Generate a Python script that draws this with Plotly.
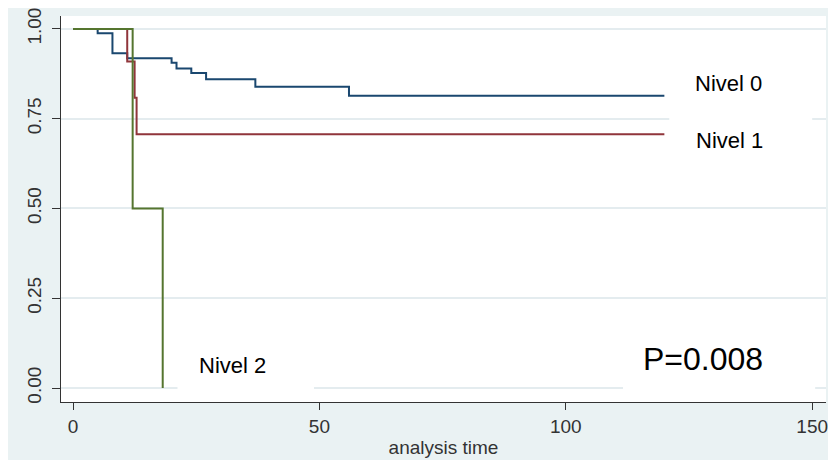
import plotly.graph_objects as go

# ---- data ----
nivel0_time = [0, 5, 8, 11, 20, 21, 24, 27, 37, 56, 120]
nivel0_surv = [1.0, 0.988, 0.932, 0.918, 0.906, 0.890, 0.877, 0.860, 0.839, 0.814, 0.814]

nivel1_time = [0, 11, 12.5, 12.9, 120]
nivel1_surv = [1.0, 0.909, 0.808, 0.707, 0.707]

nivel2_time = [0, 12.1, 18.2]
nivel2_surv = [1.0, 0.5, 0.0]

x_ticks = [0, 50, 100, 150]
y_ticks = [0.0, 0.25, 0.5, 0.75, 1.0]

labels = ["Nivel 0", "Nivel 1", "Nivel 2"]
p_text = "P=0.008"

BG = "#eaf2f3"
GRID = "#e4ecef"
NAVY = "#1a476f"
MAROON = "#90353b"
GREEN = "#55752f"
FONT = "Liberation Sans, Arial, sans-serif"

fig = go.Figure()
for t, s, c, name in [(nivel0_time, nivel0_surv, NAVY, labels[0]),
                      (nivel1_time, nivel1_surv, MAROON, labels[1]),
                      (nivel2_time, nivel2_surv, GREEN, labels[2])]:
    fig.add_trace(go.Scatter(x=t, y=s, mode="lines", line=dict(color=c, width=2, shape="hv"),
                             name=name, showlegend=False))

# white boxes behind text labels (hide gridlines like the original)
boxes = [
    (121.0, 150.0, 0.62, 0.755),   # Nivel 1
    (21.2, 48.9, -0.006, 0.125),   # Nivel 2
    (111.6, 150.6, -0.006, 0.125), # P value
]
for x0, x1, y0, y1 in boxes:
    fig.add_shape(type="rect", xref="x", yref="y", x0=x0, x1=x1, y0=y0, y1=y1,
                  fillcolor="white", line=dict(width=0), layer="between")

ann_font = dict(family=FONT, size=22, color="black")
fig.add_annotation(x=133.1, y=0.848, text=labels[0], showarrow=False, font=ann_font)
fig.add_annotation(x=133.3, y=0.690, text=labels[1], showarrow=False, font=ann_font)
fig.add_annotation(x=32.4, y=0.063, text=labels[2], showarrow=False, font=ann_font)
fig.add_annotation(x=127.8, y=0.080, text=p_text, showarrow=False,
                   font=dict(family=FONT, size=32, color="black"))

fig.update_layout(
    width=828, height=452,
    margin=dict(l=53, r=10, t=8, b=58),
    paper_bgcolor=BG, plot_bgcolor="white",
    font=dict(family=FONT, size=19, color="#333333"),
    xaxis=dict(range=[-2.44, 152.8], tickvals=x_ticks, showgrid=False, zeroline=False,
               showline=True, linecolor="#333333", linewidth=1, automargin=False,
               ticks="outside", ticklen=7, tickcolor="#333333", ticklabeloverflow="allow",
               title=dict(text="analysis time", standoff=4, font=dict(size=19))),
    yaxis=dict(range=[-0.039, 1.036], tickvals=y_ticks, tickformat=".2f", tickangle=-90,
               showgrid=True, gridcolor=GRID, gridwidth=1.5, zeroline=False,
               showline=True, linecolor="#333333", linewidth=1, automargin=False,
               ticks="outside", ticklen=8, tickcolor="#333333", ticklabeloverflow="allow",
               ticklabelstandoff=3),
)

fig.write_html("out.html")
